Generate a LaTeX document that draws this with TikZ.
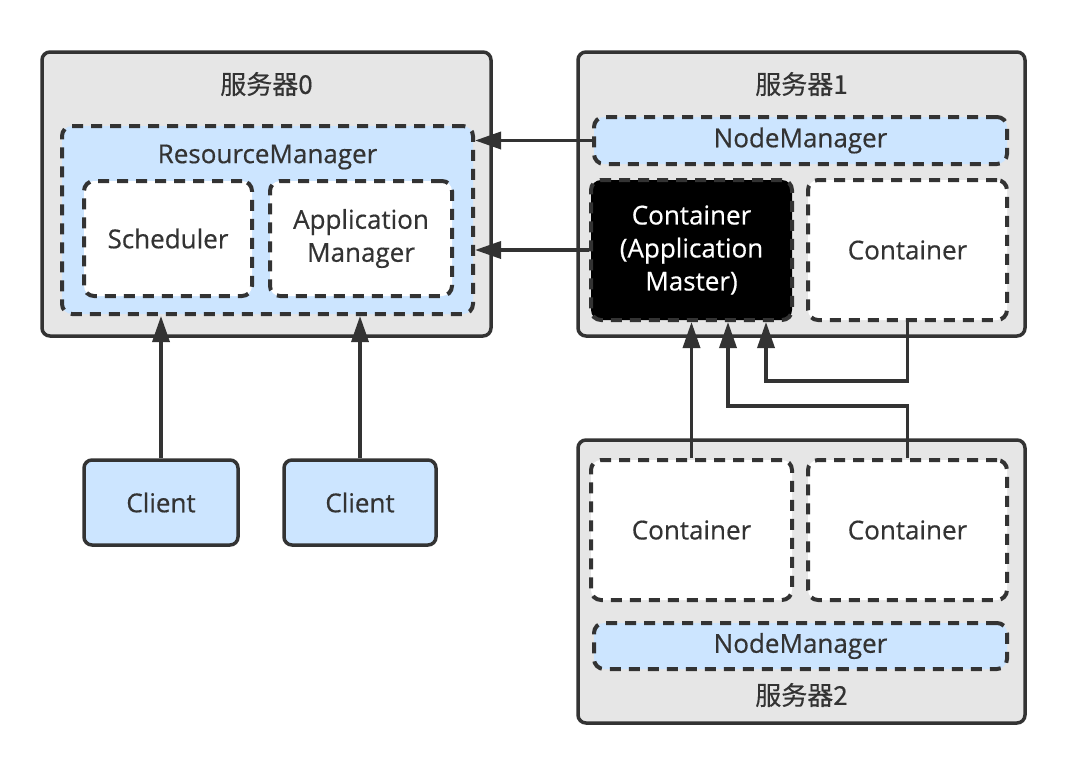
\documentclass[tikz,border=0pt]{standalone}
\usepackage{fontspec}
\setmainfont{Open Sans}[FakeBold=0.5]
\newfontfamily\cjk{Noto Sans CJK SC}[FakeBold=0.4]
\usetikzlibrary{arrows.meta,calc}

\definecolor{srvgray}{HTML}{E6E6E6}
\definecolor{edgegray}{HTML}{333333}
\definecolor{lblue}{HTML}{CCE5FF}

\begin{document}
\begin{tikzpicture}[x=0.5pt,y=-0.5pt,
    font=\fontsize{13}{16.5}\selectfont, text=edgegray,
    server/.style={draw=edgegray,fill=srvgray,line width=1.75pt,rounded corners=4pt,
      minimum width=223.5pt,minimum height=142pt},
    part/.style={draw=edgegray,fill=white,line width=2pt,rounded corners=5pt,
      dash pattern=on 5.5pt off 4pt,align=center},
    blue part/.style={part,fill=lblue},
    client/.style={draw=edgegray,fill=lblue,line width=1.75pt,rounded corners=4pt,
      minimum width=76.5pt,minimum height=42.5pt},
    link/.style={draw=edgegray,line width=1.75pt,-{Triangle[length=13pt,width=8.5pt]}}]
    \useasboundingbox (0,0) rectangle (1082,760);

    %% three servers
    \node[server,minimum width=224.5pt] (srv0) at (266.5,194) {};
    \node[server] (srv1) at (801.5,194) {};
    \node[server,minimum height=141.5pt] (srv2) at (801.5,581.5) {};
    \node (srv0-t) at (266.5,84) {\cjk 服务器0};
    \node (srv1-t) at (801.5,84) {\cjk 服务器1};
    \node (srv2-t) at (801.5,695) {\cjk 服务器2};

    %% server 0: resource manager
    \node[blue part,minimum width=205.5pt,minimum height=94pt] (rm) at (267.5,220) {};
    \node (rm-t) at (267.5,157) {ResourceManager};
    \node[part,minimum width=84pt,minimum height=57.5pt] (sched) at (168,238.5) {Scheduler};
    \node[part,minimum width=91pt,minimum height=57.5pt] (appm) at (361,238.5) {Application\\Manager};

    %% server 1
    \node[blue part,minimum width=206.5pt,minimum height=23.5pt] (nm1) at (800.5,140.5) {NodeManager};
    \node[part,fill=black,text=white,minimum width=100.5pt,minimum height=70pt] (am) at (691.5,250)
      {Container\\(Application\\Master)};
    \node[part,minimum width=99.5pt,minimum height=70pt] (ct1) at (907.5,250) {Container};

    %% server 2
    \node[part,minimum width=100.5pt,minimum height=70pt] (ct2) at (691.5,530) {Container};
    \node[part,minimum width=99.5pt,minimum height=70pt] (ct3) at (907.5,530) {Container};
    \node[blue part,minimum width=206.5pt,minimum height=23pt] (nm2) at (800.5,646) {NodeManager};

    %% clients
    \node[client,minimum width=77pt] (cl1) at (161,502.5) {Client};
    \node[client,minimum width=76pt] (cl2) at (360,502.5) {Client};

    %% heartbeats to the resource manager
    \draw[link] (nm1.west) -- (nm1.west -| rm.east);
    \draw[link] (am.west) -- (am.west -| rm.east);
    \draw[link] (cl1.north) -- (cl1.north |- rm.south);
    \draw[link] (cl2.north) -- (cl2.north |- rm.south);

    %% containers to the application master
    \draw[link] (ct2.north) -- (ct2.north |- am.south);
    \draw[link] (ct3.north) -- ++(0,-52) -| ($(am.south)+(36.5,0)$);
    \draw[link] (ct1.south) -- ++(0,59) -| ($(am.south)+(74.5,0)$);
\end{tikzpicture}
\end{document}
